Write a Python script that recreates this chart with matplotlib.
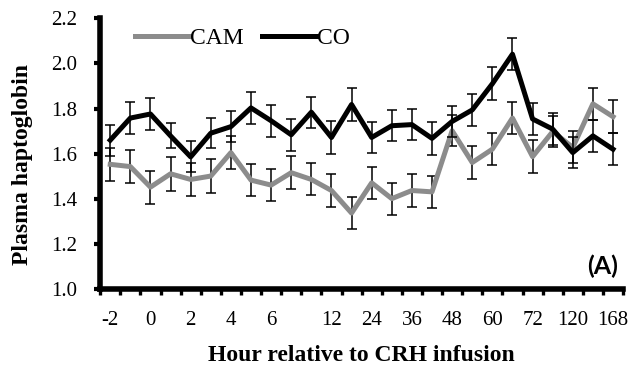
import numpy as np
import matplotlib
matplotlib.use('Agg')
import matplotlib.pyplot as plt

# sampling hours relative to CRH infusion (plotted as evenly spaced categories)
hours = [-2, -1, 0, 1, 2, 3, 4, 5, 6, 8, 10, 12, 18, 24, 30, 36, 42, 48,
         54, 60, 66, 72, 96, 120, 144, 168]
tick_labels = ['-2', '', '0', '', '2', '', '4', '', '6', '', '', '12', '', '24',
               '', '36', '', '48', '', '60', '', '72', '', '120', '', '168']

cam = [1.553, 1.543, 1.452, 1.511, 1.486, 1.501, 1.605, 1.483, 1.461, 1.516,
       1.486, 1.437, 1.337, 1.471, 1.401, 1.437, 1.431, 1.702, 1.561, 1.620,
       1.758, 1.587, 1.698, 1.628, 1.821, 1.764]
cam_err = [0.073, 0.074, 0.073, 0.074, 0.074, 0.074, 0.072, 0.071, 0.072, 0.072,
           0.071, 0.071, 0.072, 0.072, 0.071, 0.072, 0.072, 0.070, 0.071, 0.072,
           0.071, 0.073, 0.070, 0.071, 0.072, 0.072]

co = [1.660, 1.758, 1.776, 1.679, 1.586, 1.691, 1.720, 1.803, 1.746, 1.684,
      1.784, 1.672, 1.818, 1.672, 1.724, 1.729, 1.668, 1.743, 1.794, 1.910,
      2.041, 1.754, 1.709, 1.605, 1.679, 1.620]
co_err = [0.069, 0.071, 0.071, 0.055, 0.069, 0.067, 0.069, 0.071, 0.071, 0.071,
          0.069, 0.072, 0.071, 0.070, 0.068, 0.070, 0.072, 0.070, 0.072, 0.074,
          0.071, 0.072, 0.070, 0.068, 0.070, 0.070]

plt.rcParams['font.family'] = ['Liberation Serif', 'DejaVu Serif']

fig = plt.figure(figsize=(6.3, 3.66), dpi=100)
ax = fig.add_axes([0.159, 0.21, 0.83, 0.74])

x = np.arange(len(hours))
ax.errorbar(x, cam, yerr=cam_err, color='#8c8c8c', lw=3.6, ecolor='black',
            elinewidth=1.1, capsize=3.3, capthick=1.1, label='CAM', zorder=2)
ax.errorbar(x, co, yerr=co_err, color='black', lw=3.6, ecolor='black',
            elinewidth=1.1, capsize=3.3, capthick=1.1, label='CO', zorder=3)

ax.set_xlim(-0.5, len(hours) - 0.5)
ax.set_ylim(1.0, 2.2)
ax.set_yticks(np.arange(1.0, 2.21, 0.2))
ax.set_yticklabels(['%.1f' % v for v in np.arange(1.0, 2.21, 0.2)])

# category labels centred on points, tick marks between categories
ax.set_xticks(x)
ax.set_xticklabels(tick_labels)
ax.set_xticks(np.arange(-0.5, len(hours), 1.0), minor=True)
ax.tick_params(axis='x', which='major', length=0, pad=16, labelsize=15)
ax.tick_params(axis='x', which='minor', length=4, width=2.4, direction='out')
ax.tick_params(axis='y', length=4.5, width=3, direction='out', labelsize=15, pad=12)

for side in ['top', 'right']:
    ax.spines[side].set_visible(False)
for side in ['left', 'bottom']:
    ax.spines[side].set_linewidth(4)

ax.set_xlabel('Hour relative to CRH infusion', fontsize=17, fontweight='bold')
ax.xaxis.set_label_coords(0.5, -0.205)
ax.set_ylabel('Plasma haptoglobin', fontsize=17, fontweight='bold')
ax.yaxis.set_label_coords(-0.128, 0.46)

handles, labels = ax.get_legend_handles_labels()
handles = [h[0] for h in handles]
ax.legend(handles, labels, loc='center left', bbox_to_anchor=(0.066, 0.927),
          ncol=2, frameon=False, fontsize=17, handlelength=2.3,
          handletextpad=0.05, columnspacing=0.75, borderaxespad=0,
          borderpad=0)

ax.text(0.99, 0.085, '(A)', transform=ax.transAxes, ha='right', va='center',
        fontsize=18, fontweight='bold', family='Lato')

fig.savefig('out.png', dpi=100)
